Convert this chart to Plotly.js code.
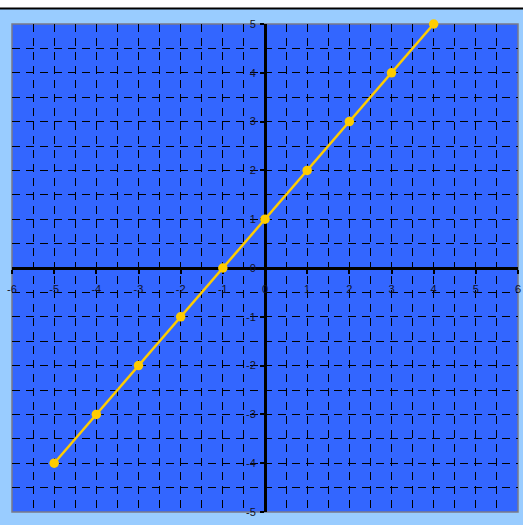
<!DOCTYPE html>
<html>
<head>
<meta charset="utf-8">
<script src="https://cdn.plot.ly/plotly-3.0.1.min.js"></script>
<style>html,body{margin:0;padding:0;background:#fff;}#chart{width:523px;height:525px;}</style>
</head>
<body>
<div id="chart"></div>
<script>
const xValues = [-5, -4, -3, -2, -1, 0, 1, 2, 3, 4];
const yValues = [-4, -3, -2, -1, 0, 1, 2, 3, 4, 5];
const xTicks = [-6, -5, -4, -3, -2, -1, 0, 1, 2, 3, 4, 5, 6];
const yTicks = [-5, -4, -3, -2, -1, 0, 1, 2, 3, 4, 5];

const gridStyle = {gridcolor: '#000000', gridwidth: 1, griddash: '8px,6px'};

const trace = {
  x: xValues, y: yValues,
  type: 'scatter', mode: 'lines+markers',
  line: {color: '#ffcc00', width: 2.5},
  marker: {color: '#ffcc00', size: 9.5},
  cliponaxis: false,
  hoverinfo: 'skip'
};

const layout = {
  width: 523, height: 525,
  margin: {l: 12, r: 5, t: 24, b: 13, pad: 0},
  paper_bgcolor: '#99ccff',
  plot_bgcolor: '#3366ff',
  showlegend: false,
  font: {family: 'Liberation Sans, Arial, sans-serif', size: 11, color: '#111122'},
  xaxis: Object.assign({
    range: [-6, 6], tickvals: xTicks, ticktext: xTicks.map(String),
    anchor: 'free', position: 0.5, layer: 'below traces',
    showline: true, linecolor: '#000000', linewidth: 3,
    ticks: 'outside', ticklen: 4, tickwidth: 2, tickcolor: '#000000',
    ticklabelstandoff: 6,
    zeroline: false, showgrid: true,
    minor: Object.assign({dtick: 0.5, tick0: 0, showgrid: true, ticks: ''}, gridStyle),
    fixedrange: true
  }, gridStyle),
  yaxis: Object.assign({
    range: [-5, 5], tickvals: yTicks, ticktext: yTicks.map(String),
    anchor: 'free', position: 0.5, layer: 'below traces',
    showline: true, linecolor: '#000000', linewidth: 3,
    ticks: 'outside', ticklen: 4, tickwidth: 2, tickcolor: '#000000',
    ticklabelstandoff: 2,
    zeroline: false, showgrid: true,
    minor: Object.assign({dtick: 0.5, tick0: 0, showgrid: true, ticks: ''}, gridStyle),
    fixedrange: true
  }, gridStyle),
  shapes: [
    {type: 'rect', xref: 'paper', yref: 'paper', x0: -0.05, x1: 1.05, y0: 1.0328, y1: 1.06,
     fillcolor: '#ffffff', line: {width: 0}, layer: 'above'},
    {type: 'line', xref: 'paper', yref: 'paper', x0: -0.05, x1: 1.05, y0: 1.0318, y1: 1.0318,
     line: {color: '#000000', width: 2}, layer: 'above'},
    {type: 'rect', xref: 'paper', yref: 'paper', x0: 0, x1: 1, y0: 0, y1: 1,
     line: {color: '#7a7a8a', width: 1.5}, layer: 'below'}
  ]
};

Plotly.newPlot('chart', [trace], layout, {displayModeBar: false, staticPlot: true});
</script>
</body>
</html>
